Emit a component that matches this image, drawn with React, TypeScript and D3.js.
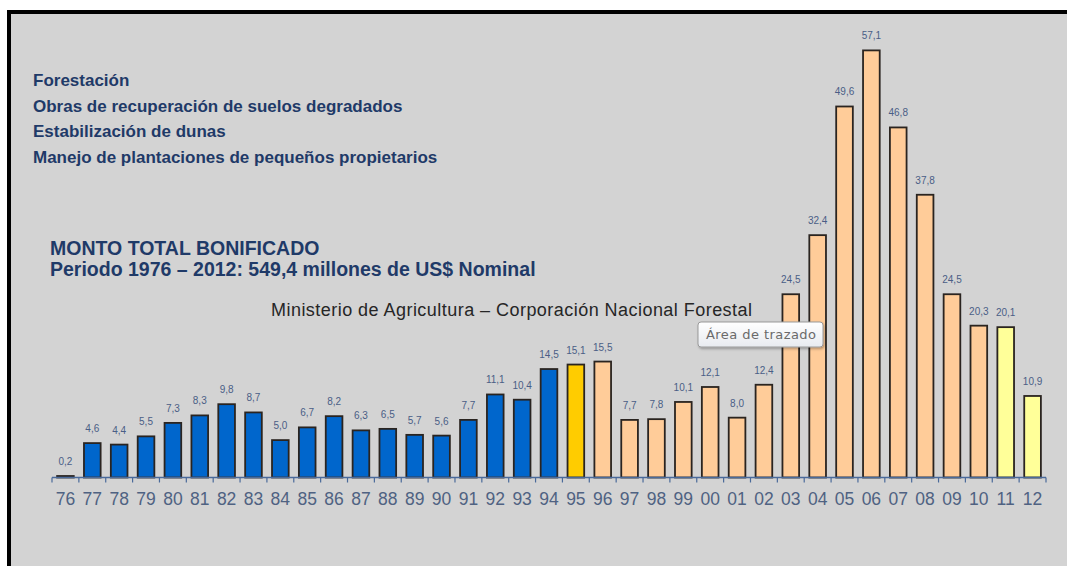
import React from "react";
import * as d3 from "d3";

const years = ["76","77","78","79","80","81","82","83","84","85","86","87","88","89","90","91","92","93","94","95","96","97","98","99","00","01","02","03","04","05","06","07","08","09","10","11","12"];
const values = [0.2,4.6,4.4,5.5,7.3,8.3,9.8,8.7,5.0,6.7,8.2,6.3,6.5,5.7,5.6,7.7,11.1,10.4,14.5,15.1,15.5,7.7,7.8,10.1,12.1,8.0,12.4,24.5,32.4,49.6,57.1,46.8,37.8,24.5,20.3,20.1,10.9];
// period group of each bar
const groups = ["a","a","a","a","a","a","a","a","a","a","a","a","a","a","a","a","a","a","a","b","c","c","c","c","c","c","c","c","c","c","c","c","c","c","c","d","d"];
const legendLines = [
  "Forestación",
  "Obras de recuperación de suelos degradados",
  "Estabilización de dunas",
  "Manejo de plantaciones de pequeños propietarios",
];

const W = 1067;
const H = 566;
const baseY = 477.5;

const groupColor: Record<string, string> = { a: "#0066CC", b: "#FFCC00", c: "#FFCC99", d: "#FFFF99" };

export default function App() {
  const x = d3.scaleBand<string>().domain(years).range([52, 1046]).paddingInner(0.38).paddingOuter(0.19);
  const y = d3.scaleLinear().domain([0, 60]).range([baseY, baseY - 60 * 7.48]);
  const step = x.step();
  const fmt = (v: number) => v.toFixed(1).replace(".", ",");
  const boundaries = years.map((yr) => (x(yr) as number) - (step * 0.38) / 2);
  boundaries.push(1046);

  return (
    <svg width={W} height={H} style={{ position: "absolute", left: 0, top: 0 }} fontFamily="'Liberation Sans', Arial, sans-serif">
      <rect x={0} y={0} width={W} height={H} fill="#ffffff" />
      <rect x={7} y={10} width={W - 7} height={H - 10} fill="#000" />
      <rect x={11} y={14} width={W - 11} height={H - 14} fill="#D3D3D3" />

      {legendLines.map((t, i) => (
        <text key={t} x={33} y={86 + i * 25.5} fontSize={17} fontWeight="bold" fill="#1F3A68">{t}</text>
      ))}
      <text x={50} y={255} fontSize={19.5} fontWeight="bold" fill="#1F3A68">MONTO TOTAL BONIFICADO</text>
      <text x={50} y={275.5} fontSize={19.5} fontWeight="bold" fill="#1F3A68">Periodo 1976 – 2012: 549,4 millones de US$ Nominal</text>
      <text x={271} y={316} fontSize={18} fill="#262626" textLength={481}>Ministerio de Agricultura – Corporación Nacional Forestal</text>

      {years.map((yr, i) => {
        const v = values[i];
        const top = y(v);
        return (
          <g key={yr}>
            <rect x={x(yr)} y={top} width={x.bandwidth()} height={baseY - top} fill={groupColor[groups[i]]} stroke="#2a2420" strokeWidth={1.8} />
            <text x={(x(yr) as number) + x.bandwidth() / 2} y={top - 11} fontSize={10} textAnchor="middle" fill="#4A5E86">{fmt(v)}</text>
          </g>
        );
      })}

      <line x1={52} x2={1046} y1={baseY} y2={baseY} stroke="#4A6A9A" strokeWidth={1.5} />
      {boundaries.map((bx, i) => (
        <line key={i} x1={bx} x2={bx} y1={baseY} y2={baseY + 5} stroke="#4A6A9A" strokeWidth={1.2} />
      ))}
      {years.map((yr) => (
        <text key={"l" + yr} x={(x(yr) as number) + x.bandwidth() / 2} y={504.5} fontSize={17.5} textAnchor="middle" fill="#4F6282">{yr}</text>
      ))}

      <defs>
        <filter id="sh" x="-10%" y="-20%" width="130%" height="160%">
          <feDropShadow dx={1} dy={1.5} stdDeviation={1.2} floodColor="#000" floodOpacity={0.3} />
        </filter>
        <linearGradient id="tipg" x1="0" y1="0" x2="0" y2="1">
          <stop offset="0" stopColor="#ffffff" />
          <stop offset="1" stopColor="#e8ebf0" />
        </linearGradient>
      </defs>
      <rect x={698} y={322} width={125} height={25} rx={3} fill="url(#tipg)" stroke="#9a9a9a" strokeWidth={1} filter="url(#sh)" />
      <text x={706} y={339} fontSize={13} fill="#6a6a6a" fontFamily="'DejaVu Sans', sans-serif" textLength={110}>Área de trazado</text>
    </svg>
  );
}
